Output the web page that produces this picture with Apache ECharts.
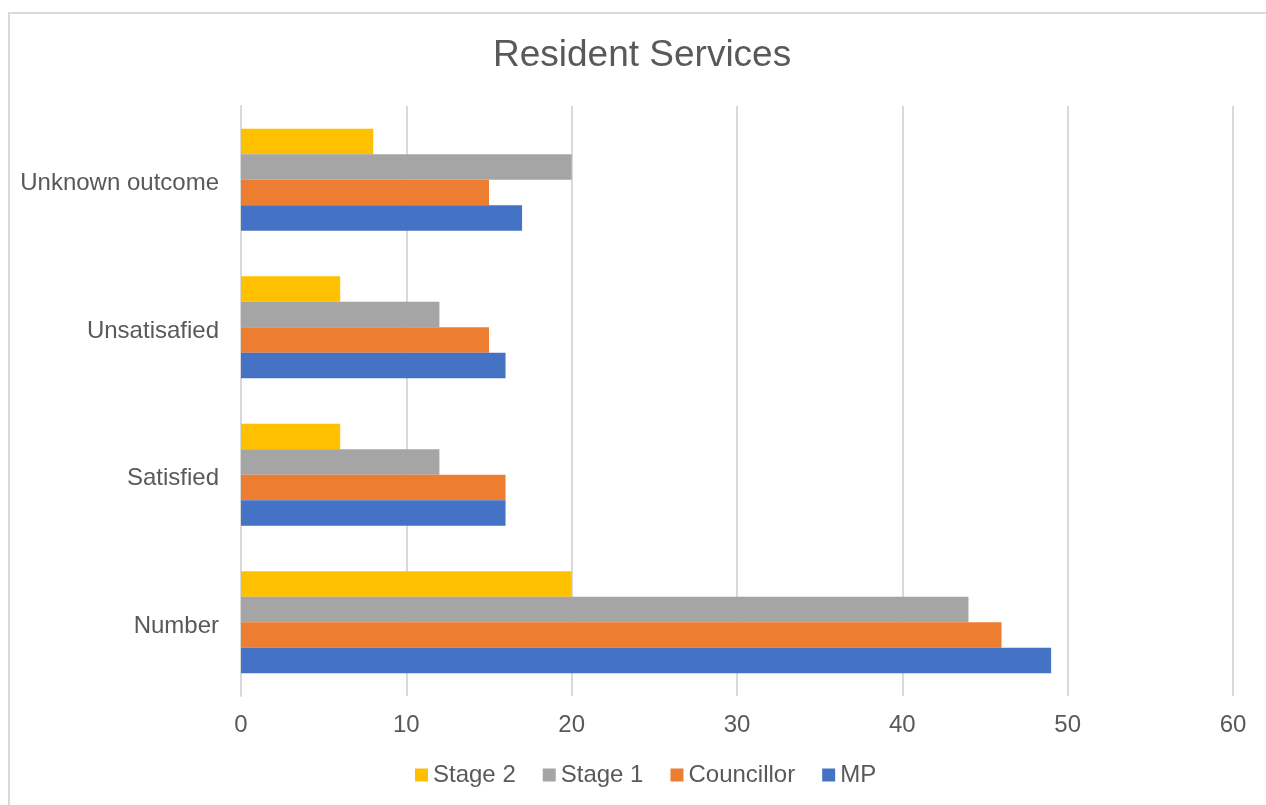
<!DOCTYPE html>
<html>
<head>
<meta charset="utf-8">
<script src="https://cdn.jsdelivr.net/npm/echarts@6/dist/echarts.min.js"></script>
<style>
  html, body { margin: 0; padding: 0; background: #ffffff; }
  #frame { position: absolute; left: 8px; top: 12px; width: 1270px; height: 800px; border: 2px solid #d9d9d9; box-sizing: border-box; }
  #chart { width: 1266px; height: 805px; position: absolute; left: 0; top: 0; }
</style>
</head>
<body>
<div id="frame"></div>
<div id="chart"></div>
<script>
// Categories listed bottom to top along the vertical axis
const categories = ['Number', 'Satisfied', 'Unsatisafied', 'Unknown outcome'];
const mpValues = [49, 16, 16, 17];
const councillorValues = [46, 16, 15, 15];
const stage1Values = [44, 12, 12, 20];
const stage2Values = [20, 6, 6, 8];
const legendOrder = ['Stage 2', 'Stage 1', 'Councillor', 'MP'];
const xTicks = { min: 0, max: 60, interval: 10 };

const textColor = '#595959';
const fontFamily = '"Liberation Sans", Arial, sans-serif';

const chart = echarts.init(document.getElementById('chart'), null, { renderer: 'canvas' });

function barSeries(name, data, color) {
  return {
    name: name,
    type: 'bar',
    data: data,
    barCategoryGap: '31%',
    barGap: '0%',
    itemStyle: { color: color },
    emphasis: { disabled: true }
  };
}

chart.setOption({
  animation: false,
  backgroundColor: 'transparent',
  title: {
    text: 'Resident Services',
    left: 488,
    top: 32,
    textStyle: { color: textColor, fontSize: 37, fontWeight: 'normal', fontFamily: fontFamily }
  },
  legend: {
    data: legendOrder,
    bottom: 13,
    left: 410,
    icon: 'rect',
    itemWidth: 13,
    itemHeight: 13,
    itemGap: 27,
    textStyle: { color: textColor, fontSize: 24, fontFamily: fontFamily }
  },
  grid: { left: 241, right: 33, top: 106, bottom: 109, containLabel: false },
  xAxis: {
    type: 'value',
    min: xTicks.min,
    max: xTicks.max,
    interval: xTicks.interval,
    axisLine: { show: false },
    axisTick: { show: false },
    splitLine: { show: true, lineStyle: { color: '#d9d9d9', width: 2 } },
    axisLabel: { color: textColor, fontSize: 24, fontFamily: fontFamily, margin: 17 }
  },
  yAxis: {
    type: 'category',
    data: categories,
    axisLine: { show: true, lineStyle: { color: '#d9d9d9', width: 2 } },
    axisTick: { show: false },
    axisLabel: {
      color: textColor, fontSize: 24, fontFamily: fontFamily, margin: 22,
      verticalAlign: 'top', lineHeight: 8
    }
  },
  // Within each band the first series sits on top
  series: [
    barSeries('Stage 2', stage2Values, '#ffc000'),
    barSeries('Stage 1', stage1Values, '#a5a5a5'),
    barSeries('Councillor', councillorValues, '#ed7d31'),
    barSeries('MP', mpValues, '#4472c4')
  ]
});
</script>
</body>
</html>
